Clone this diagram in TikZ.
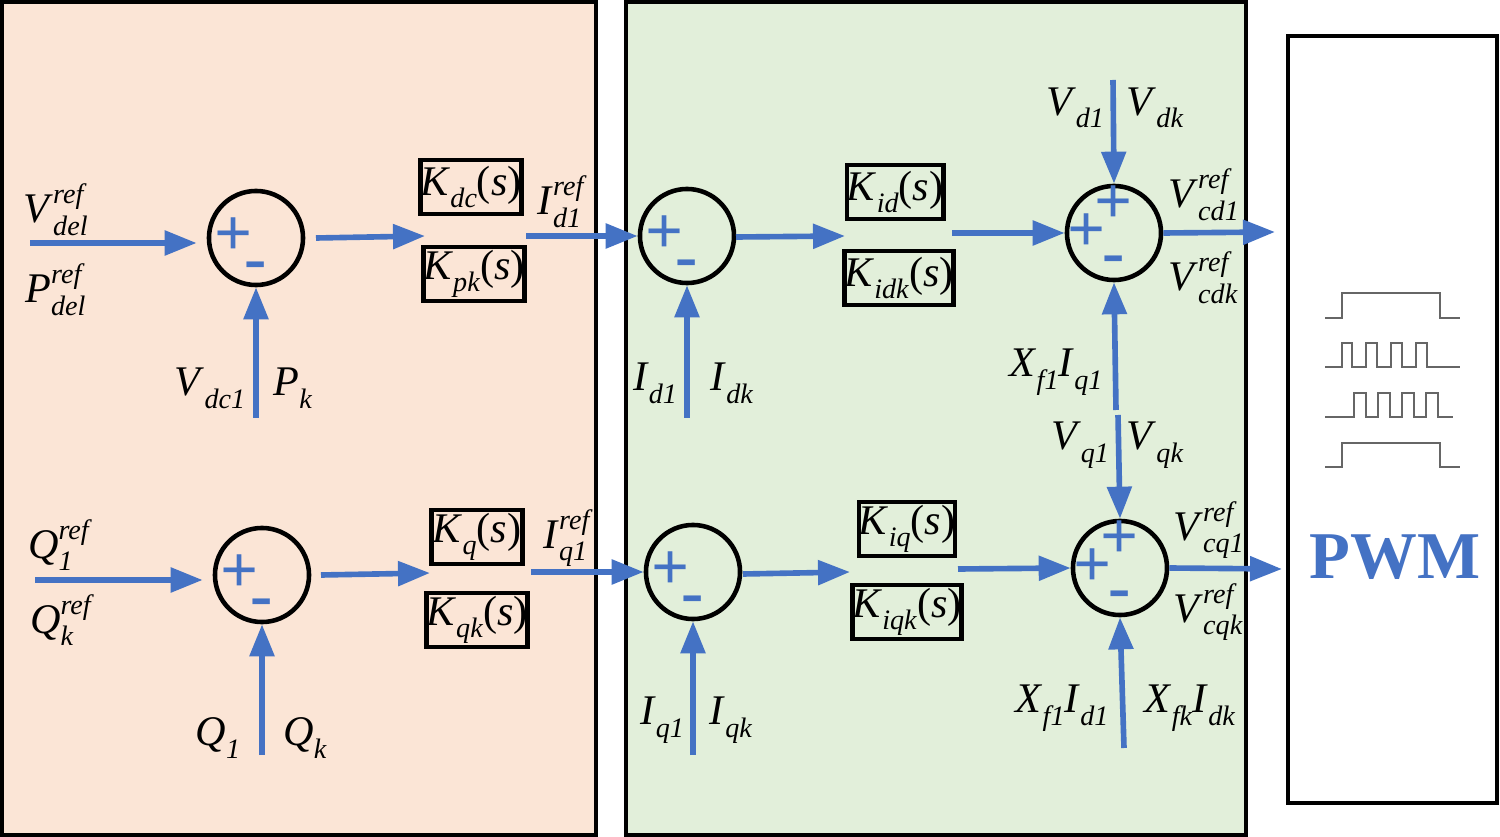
\documentclass[tikz,border=0pt]{standalone}
\usepackage{fontspec}
\setmainfont{Liberation Serif}
\usetikzlibrary{arrows.meta}
\definecolor{bl}{HTML}{4472C4}
\definecolor{peach}{HTML}{FBE5D6}
\definecolor{grn}{HTML}{E2EFDA}
\newcommand{\lb}[3]{\textit{#1}\raisebox{-0.3em}{\makebox[0pt][l]{\footnotesize\textit{#2}}}\raisebox{0.45em}{\footnotesize\textit{#3}}}
\newcommand{\ls}[2]{\textit{#1}\raisebox{-0.3em}{\footnotesize\textit{#2}}}
\begin{document}
\begin{tikzpicture}[x=0.01cm,y=-0.01cm,
  sum/.style={circle,draw,line width=1.3pt,minimum size=0.94cm,inner sep=0},
  blk/.style={draw,line width=1.3pt,minimum width=0.91cm,minimum height=0.54cm,inner sep=0,font=\fontsize{12}{14}\selectfont},
  ar/.style={bl,line width=1.6pt,-{Triangle[length=0.32cm,width=0.24cm]}},
  lab/.style={font=\fontsize{12}{14}\selectfont,inner sep=0},
  sg/.style={bl,font=\fontsize{19}{19}\selectfont\bfseries,inner sep=0},
  wv/.style={gray!80!black,line width=0.5pt}]
\useasboundingbox (0,0) rectangle (1500,837);
\draw[fill=peach,line width=1.3pt] (2,2) rectangle (596,835);
\draw[fill=grn,line width=1.3pt] (626,2) rectangle (1246,835);
\draw[fill=white,line width=1.3pt] (1288,36) rectangle (1497,803);
% summers
\node[sum] (s1) at (256,238) {}; \node[sum] (s2) at (687,236) {}; \node[sum] (s3) at (1114,233) {};
\node[sum] (t1) at (262,575) {}; \node[sum] (t2) at (693,572) {}; \node[sum] (t3) at (1120,568) {};
\foreach \n in {s1,s2,t1,t2}{\node[sg] at ([xshift=-0.22cm,yshift=0.01cm]\n.center) {+}; \node[sg] at ([yshift=-0.33cm]\n.center) {-};}
\foreach \n in {s3,t3}{\node[sg] at ([xshift=-0.27cm]\n.center) {+}; \node[sg] at ([yshift=0.28cm]\n.center) {+}; \node[sg] at ([yshift=-0.32cm]\n.center) {-};}
% blocks
\node[blk] (b1) at (471,187) {\ls{K}{dc}(\textit{s})};
\node[blk] (b2) at (474,274) {\ls{K}{pk}(\textit{s})};
\node[blk] (b3) at (895,192) {\ls{K}{id}(\textit{s})};
\node[blk] (b4) at (899,278) {\ls{K}{idk}(\textit{s})};
\node[blk] (c1) at (477,537) {\ls{K}{q}(\textit{s})};
\node[blk] (c2) at (477,620) {\ls{K}{qk}(\textit{s})};
\node[blk] (c3) at (907,529) {\ls{K}{iq}(\textit{s})};
\node[blk] (c4) at (907,612) {\ls{K}{iqk}(\textit{s})};
% coordinates
\coordinate (i1) at (30,243); \coordinate (i2) at (35,580);
\coordinate (m1) at (316,238); \coordinate (m1e) at (425,236);
\coordinate (n1) at (526,236); \coordinate (q1) at (736,237); \coordinate (q1e) at (845,236);
\coordinate (r1) at (952,233); \coordinate (o1) at (1275,232);
\coordinate (m2) at (321,575); \coordinate (m2e) at (430,573);
\coordinate (n2) at (531,572); \coordinate (q2) at (743,574); \coordinate (q2e) at (850,572);
\coordinate (r2) at (958,569); \coordinate (o2) at (1282,569);
\coordinate (u1) at (256,418); \coordinate (u2) at (687,418); \coordinate (u3) at (1116,410); \coordinate (v3) at (1113,80);
\coordinate (w1) at (262,755); \coordinate (w2) at (693,755); \coordinate (w3) at (1124,748); \coordinate (x3) at (1118,415);
\draw[ar] (i1) -- ([xshift=-0.1cm]s1.west|-i1); \draw[ar] (m1) -- (m1e); \draw[ar] (n1) -- (s2.west); \draw[ar] (q1) -- (q1e);
\draw[ar] (r1) -- (s3.west); \draw[ar] (s3.east) -- (o1);
\draw[ar] (u1) -- (s1.south); \draw[ar] (u2) -- (s2.south); \draw[ar] (u3) -- (s3.south); \draw[ar] (v3) -- (s3.north);
\draw[ar] (i2) -- ([xshift=-0.1cm]t1.west|-i2); \draw[ar] (m2) -- (m2e); \draw[ar] (n2) -- (t2.west); \draw[ar] (q2) -- (q2e);
\draw[ar] (r2) -- (t3.west); \draw[ar] (t3.east) -- (o2);
\draw[ar] (w1) -- (t1.south); \draw[ar] (w2) -- (t2.south); \draw[ar] (w3) -- (t3.south); \draw[ar] (x3) -- (t3.north);
% labels
\node[lab] at (55,210) {\lb{V}{del}{ref}};
\node[lab] at (55,290) {\lb{P}{del}{ref}};
\node[lab] at (210,388) {\ls{V}{dc1}};
\node[lab] at (293,388) {\ls{P}{k}};
\node[lab] at (562,202) {\lb{I}{d1}{ref}};
\node[lab] at (655,383) {\ls{I}{d1}};
\node[lab] at (732,383) {\ls{I}{dk}};
\node[lab] at (1075,108) {\ls{V}{d1}};
\node[lab] at (1155,108) {\ls{V}{dk}};
\node[lab] at (1200,195) {\lb{V}{cd1}{ref}};
\node[lab] at (1200,278) {\lb{V}{cdk}{ref}};
\node[lab] at (1056,372) {\ls{X}{f1}\ls{I}{q1}};
\node[lab] at (1080,445) {\ls{V}{q1}};
\node[lab] at (1155,445) {\ls{V}{qk}};
\node[lab] at (60,545) {\lb{Q}{1}{ref}};
\node[lab] at (62,620) {\lb{Q}{k}{ref}};
\node[lab] at (218,738) {\ls{Q}{1}};
\node[lab] at (305,738) {\ls{Q}{k}};
\node[lab] at (568,538) {\lb{I}{q1}{ref}};
\node[lab] at (662,720) {\ls{I}{q1}};
\node[lab] at (731,720) {\ls{I}{qk}};
\node[lab] at (1205,530) {\lb{V}{cq1}{ref}};
\node[lab] at (1205,612) {\lb{V}{cqk}{ref}};
\node[lab] at (1062,708) {\ls{X}{f1}\ls{I}{d1}};
\node[lab] at (1190,708) {\ls{X}{fk}\ls{I}{dk}};
\node[bl,font=\fontsize{19}{19}\selectfont\bfseries,inner sep=0] (pwm) at (1395,557) {PWM};
% waveforms
\draw[wv] (1325,318) -- (1342,318) -- (1342,293) -- (1440,293) -- (1440,318) -- (1460,318);
\draw[wv] (1325,367) -- (1342,367) -- (1342,343) -- (1352,343) -- (1352,367) -- (1366,367) -- (1366,343) -- (1377,343) -- (1377,367) -- (1391,367) -- (1391,343) -- (1402,343) -- (1402,367) -- (1416,367) -- (1416,343) -- (1427,343) -- (1427,367) -- (1460,367);
\draw[wv] (1325,417) -- (1354,417) -- (1354,393) -- (1366,393) -- (1366,417) -- (1378,417) -- (1378,393) -- (1390,393) -- (1390,417) -- (1402,417) -- (1402,393) -- (1414,393) -- (1414,417) -- (1426,417) -- (1426,393) -- (1438,393) -- (1438,417) -- (1453,417);
\draw[wv] (1325,467) -- (1342,467) -- (1342,443) -- (1440,443) -- (1440,467) -- (1460,467);
\end{tikzpicture}
\end{document}
